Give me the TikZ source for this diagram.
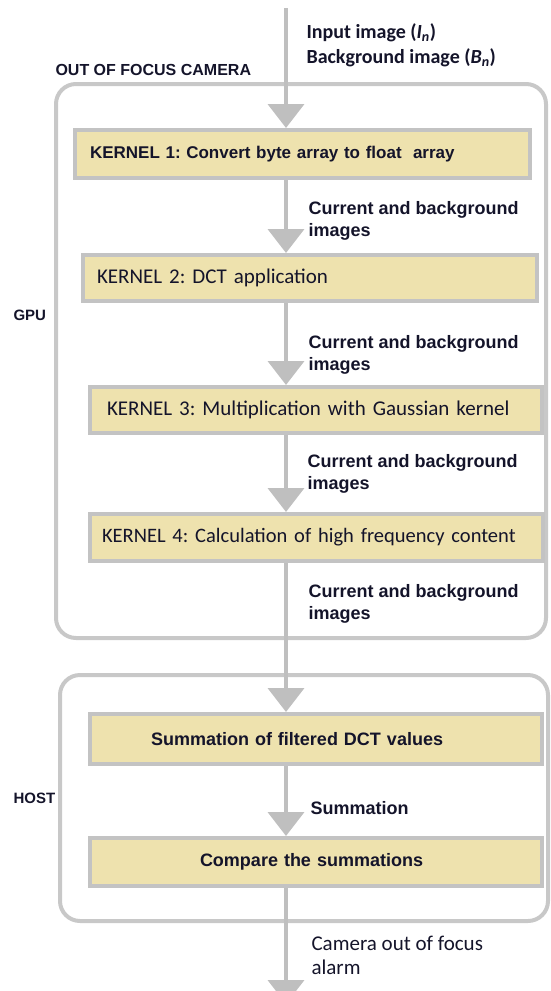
\documentclass[tikz,border=0pt]{standalone}
\usepackage{fontspec}
\setmainfont{Carlito}
\newfontfamily\arialfont{Liberation Sans}
\usetikzlibrary{arrows.meta,positioning}
\definecolor{BoxFill}{HTML}{EEE2AE}
\definecolor{BoxLine}{HTML}{C3C3C3}
\definecolor{Frame}{HTML}{C8C8C8}
\definecolor{Flow}{HTML}{BFBFBF}
\definecolor{Ink}{HTML}{14142A}

\begin{document}
\frenchspacing
\begin{tikzpicture}[
  x=1pt,y=-1pt,
  kernelbox/.style={draw=BoxLine,fill=BoxFill,line width=4pt,anchor=west,align=left,inner ysep=0pt,text=Ink},
  groupframe/.style={draw=Frame,line width=4pt,rounded corners=20pt},
  flowarrow/.style={draw=Flow,line width=4pt,-{Triangle[width=36pt,length=24pt]}},
  edgelabel/.style={anchor=west,align=left,text=Ink,font=\arialfont\bfseries\fontsize{18}{22}\selectfont},
  grouplabel/.style={anchor=west,text=Ink,font=\arialfont\bfseries\fontsize{15}{18}\selectfont}
]
\useasboundingbox (0,0) rectangle (550,991);
% frames
\node[groupframe,minimum width=490pt,minimum height=554pt] (gpu) at (301,361) {};
\node[groupframe,minimum width=488pt,minimum height=246pt] (host) at (304,798) {};
\node[grouplabel,font=\arialfont\bfseries\fontsize{16}{18}\selectfont] (camlbl) at (52,70) {OUT OF FOCUS CAMERA};
\node[grouplabel] (gpulbl) at (10,315) {GPU};
\node[grouplabel] (hostlbl) at (10,798) {HOST};
% kernels
\node[kernelbox,minimum height=48pt,inner xsep=15pt,text width=425pt,font=\arialfont\bfseries\fontsize{17}{20}\selectfont] (k1) at (73,154) {KERNEL 1: Convert byte array to float\ \ array};
\node[kernelbox,minimum height=46pt,inner xsep=14pt,text width=426pt,font=\fontsize{21}{24}\selectfont] (k2) at (81,278) {KERNEL 2: DCT application};
\node[kernelbox,minimum height=46pt,inner xsep=17pt,text width=418pt,font=\fontsize{21}{24}\selectfont] (k3) at (88,410) {KERNEL 3: Multiplication with Gaussian kernel};
\node[kernelbox,minimum height=47pt,inner xsep=12pt,text width=429pt,font=\fontsize{20.5}{24}\selectfont] (k4) at (88,537.5) {KERNEL 4: Calculation of high frequency content};
\node[kernelbox,minimum height=50pt,inner xsep=61pt,text width=330pt,font=\arialfont\bfseries\fontsize{18}{22}\selectfont] (sum) at (88,739) {Summation of filtered DCT values};
\node[kernelbox,minimum height=48pt,inner xsep=110pt,text width=232pt,font=\arialfont\bfseries\fontsize{18}{22}\selectfont] (cmp) at (88,862) {Compare the summations};
% flow
\coordinate (in) at (286,8);
\coordinate (out) at (286,1004);
\draw[flowarrow] (in) -- (k1.north -| in);
\foreach \a/\b in {k1/k2,k2/k3,k3/k4,k4/sum,sum/cmp} \draw[flowarrow] (\a.south -| in) -- (\b.north -| in);
\draw[flowarrow] (cmp.south -| in) -- (out);
% labels
\node[anchor=west,align=left,text=Ink,font=\bfseries\fontsize{20}{25}\selectfont] (inlbl) at (303,45) {Input image ({\itshape I}\textsubscript{\itshape n})\\Background image ({\itshape B}\textsubscript{\itshape n})};
\node[edgelabel] (l1) at (305,221) {Current and background\\images};
\node[edgelabel] (l2) at (305,355) {Current and background\\images};
\node[edgelabel] (l3) at (304,474) {Current and background\\images};
\node[edgelabel] (l4) at (305,604) {Current and background\\images};
\node[edgelabel] (l5) at (307,808) {Summation};
\node[anchor=west,align=left,text=Ink,font=\fontsize{21}{24}\selectfont] (l6) at (308,955) {Camera out of focus\\alarm};
\end{tikzpicture}
\end{document}
